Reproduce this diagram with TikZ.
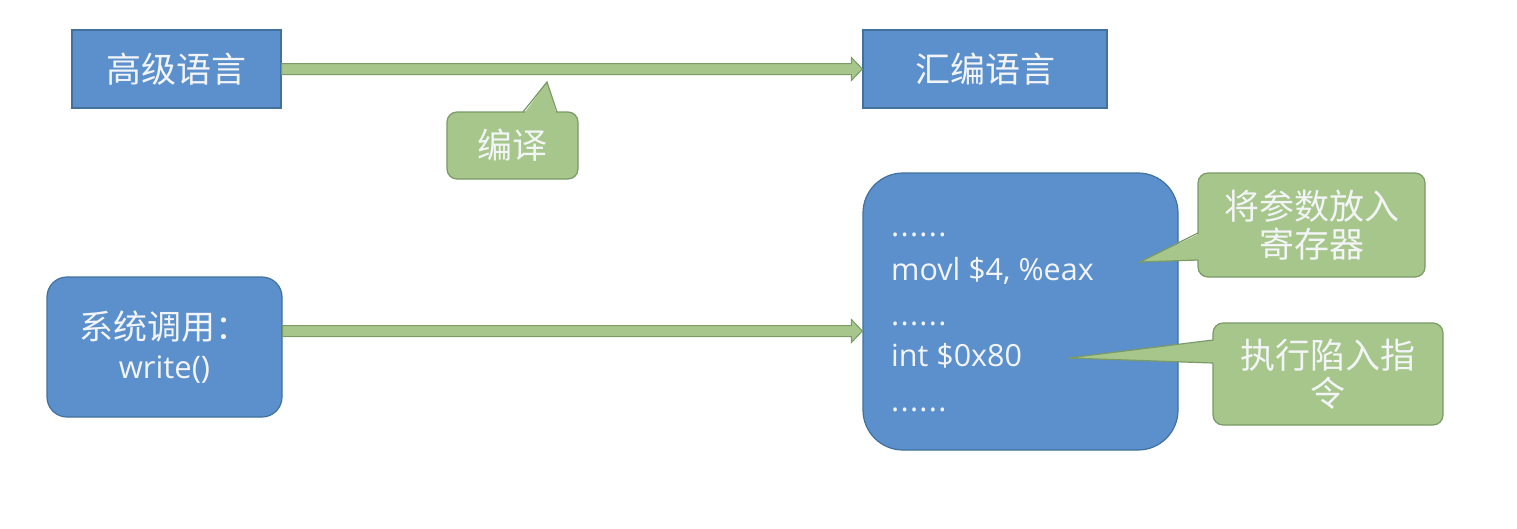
\documentclass[tikz,border=0pt]{standalone}
\usepackage{fontspec}
\setmainfont{Open Sans}
\newfontfamily\cjk{Noto Sans CJK SC}
\usetikzlibrary{calc}
\definecolor{bfill}{HTML}{5B90CC}
\definecolor{bdraw}{HTML}{41719C}
\definecolor{gfill}{HTML}{A6C68B}
\definecolor{gdraw}{HTML}{7A9A66}
\definecolor{tcol}{HTML}{F2F4F6}
\newcommand{\sixdots}{.\kern1.3pt.\kern1.3pt.\kern1.3pt.\kern1.3pt.\kern1.3pt.}
\tikzset{
  bluebox/.style={draw=bdraw, fill=bfill, line width=1.2pt, inner sep=0pt, text=tcol, align=center},
  greenbox/.style={draw=gdraw, fill=gfill, line width=1.2pt, rounded corners=10pt, inner sep=0pt, text=tcol, align=center},
  zh/.style={font=\cjk\fontsize{35}{38}\selectfont},
  codeline/.style={font=\fontsize{30.5}{34}\selectfont, text=tcol, inner sep=0pt, anchor=base west},
  blockarrow/.style={draw=gdraw, fill=gfill, line width=1pt, line join=miter},
  pointeredge/.style={draw=gdraw, line width=1.2pt, line join=miter},
}
\begin{document}
\begin{tikzpicture}[x=1pt,y=-1pt]
\useasboundingbox[fill=white] (0,0) rectangle (1517,528);

% top row
\node[bluebox, zh, minimum width=209, minimum height=78] (A) at (176.5,69) {高级语言};
\node[bluebox, zh, minimum width=244, minimum height=78] (B) at (985,69) {汇编语言};

% bottom row
\node[bluebox, rounded corners=20pt, minimum width=235, minimum height=140,
      font=\fontsize{31}{39}\selectfont] (C) at (164.5,347)
      {{\cjk\fontsize{34}{39}\selectfont 系统调用：}\\write()};
\node[bluebox, rounded corners=40pt, minimum width=315, minimum height=277] (D) at (1020.5,311.5) {};

\node[codeline] (d1) at (891,236) {\sixdots};
\node[codeline] (l1) at (891,280) {movl \$4, \%eax};
\node[codeline] (d2) at (891,325) {\sixdots};
\node[codeline] (l2) at (891,366) {int \$0x80};
\node[codeline] (d3) at (891,411) {\sixdots};

% arrows
\coordinate (ya) at (0,331);
\coordinate (s2) at (C.east |- ya);
\coordinate (t2) at (D.west |- ya);
\draw[blockarrow] ($(A.east)+(0,-5.5)$) -- ($(B.west)+(-11,-5.5)$) -- ($(B.west)+(-11,-11.5)$)
  -- (B.west) -- ($(B.west)+(-11,11.5)$) -- ($(B.west)+(-11,5.5)$) -- ($(A.east)+(0,5.5)$) -- cycle;
\draw[blockarrow] ($(s2)+(0,-5.5)$) -- ($(t2)+(-11,-5.5)$) -- ($(t2)+(-11,-11.5)$)
  -- (t2) -- ($(t2)+(-11,11.5)$) -- ($(t2)+(-11,5.5)$) -- ($(s2)+(0,5.5)$) -- cycle;

% callout: 编译
\node[greenbox, zh, minimum width=131, minimum height=67] (Q) at (512.5,145.5) {编译};
\coordinate (qtip) at (547,82);
\fill[gfill] (523,115) -- (qtip) -- (557,115) -- cycle;
\draw[pointeredge] (523,112) -- (qtip) -- (557,112);

% callout: 将参数放入寄存器
\node[greenbox, zh, minimum width=227, minimum height=104] (P1) at (1311.5,225) {将参数放入\\寄存器};
\coordinate (p1tip) at (1140,262);
\fill[gfill] (1201,233) -- (p1tip) -- (1201,260) -- cycle;
\draw[pointeredge] (1198,233) -- (p1tip) -- (1198,260);

% callout: 执行陷入指令
\node[greenbox, zh, minimum width=230, minimum height=102] (P2) at (1328,374) {执行陷入指\\令};
\coordinate (p2tip) at (1068,358);
\fill[gfill] (1216,340) -- (p2tip) -- (1216,363) -- cycle;
\draw[pointeredge] (1213,340) -- (p2tip) -- (1213,363);
\end{tikzpicture}
\end{document}
